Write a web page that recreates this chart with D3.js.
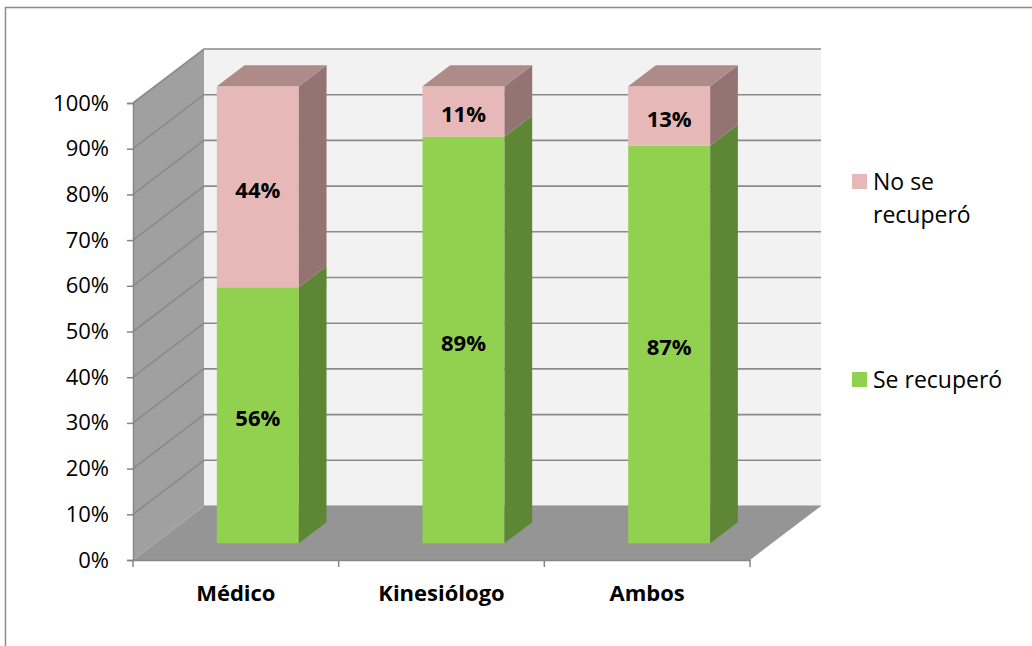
<!DOCTYPE html>
<html>
<head>
<meta charset="utf-8">
<script src="https://cdn.jsdelivr.net/npm/d3@7"></script>
<style>
  html, body { margin: 0; padding: 0; background: #fff; }
  svg { display: block; }
  text { font-family: "Open Sans", "Noto Sans", sans-serif; }
</style>
</head>
<body>
<svg id="chart" width="1032" height="646"></svg>
<script>
// Outcome by type of treatment (share of patients)
const categories = ["Médico", "Kinesiólogo", "Ambos"];
const recovered = [56, 89, 87];
const notRecovered = [44, 11, 13];
const seriesNames = ["Se recuperó", "No se recuperó"];
const yTicks = [0, 10, 20, 30, 40, 50, 60, 70, 80, 90, 100];

const svg = d3.select("#chart");

// frame around the chart area
svg.append("rect")
  .attr("x", 5.5).attr("y", 7.5)
  .attr("width", 1040).attr("height", 660)
  .attr("fill", "#fff").attr("stroke", "#8c8c8c").attr("stroke-width", 1.5);

// front plane scales and oblique depth offset
const x = d3.scaleBand().domain(categories).range([133, 750]).padding(0);
const y = d3.scaleLinear().domain([0, 100]).range([560, 103]);
const DX = 71, DY = 54;               // full depth of the box
const proj = (px, v, z) => [px + z * DX, y(v) - z * DY];
const poly = pts => "M" + pts.map(p => p.join(",")).join("L") + "Z";

const x0 = x.range()[0], x1 = x.range()[1];

// back wall
svg.append("path")
  .attr("d", poly([proj(x0, 0, 1), proj(x1, 0, 1), proj(x1, 100, 1), proj(x0, 100, 1)]))
  .attr("fill", "#f2f2f2");

// left side wall
svg.append("path")
  .attr("d", poly([proj(x0, 0, 0), proj(x0, 0, 1), proj(x0, 100, 1), proj(x0, 100, 0)]))
  .attr("fill", "#a0a0a0");

// floor
svg.append("path")
  .attr("d", poly([proj(x0, 0, 0), proj(x1, 0, 0), proj(x1, 0, 1), proj(x0, 0, 1)]))
  .attr("fill", "#959595");

// gridlines: diagonal on the side wall, horizontal on the back wall
const grid = svg.append("g").attr("stroke", "#8a8a8a").attr("stroke-width", 1.6).attr("fill", "none");
yTicks.forEach(t => {
  if (t > 0) {
    grid.append("path").attr("d", "M" + proj(x0, t, 0) + "L" + proj(x0, t, 1) + "L" + proj(x1, t, 1));
  } else {
    grid.append("path").attr("d", "M" + proj(x0, t, 1) + "L" + proj(x1, t, 1))
      .attr("stroke", "#8f8f8f").attr("stroke-width", 1);
  }
});

// bars
const colors = {
  rec: { front: "#92d050", side: "#5e8735", top: "#7aa845" },
  no:  { front: "#e6b8b7", side: "#937472", top: "#ae8b89" }
};
const barW = 82, zA = 0.31, zB = 0.70;

const rows = categories.map((c, i) => ({
  cat: c,
  segs: [
    { key: "rec", v0: 0, v1: recovered[i], label: recovered[i] },
    { key: "no", v0: recovered[i], v1: recovered[i] + notRecovered[i], label: notRecovered[i] }
  ]
}));

const bars = svg.append("g");
rows.forEach(r => {
  const cx = x(r.cat) + x.bandwidth() / 2;
  const L = cx - barW / 2, R = cx + barW / 2;
  const g = bars.append("g");
  r.segs.forEach(s => {
    const col = colors[s.key];
    // front face
    g.append("path")
      .attr("d", poly([proj(L, s.v0, zA), proj(R, s.v0, zA), proj(R, s.v1, zA), proj(L, s.v1, zA)]))
      .attr("fill", col.front);
    // right side face
    g.append("path")
      .attr("d", poly([proj(R, s.v0, zA), proj(R, s.v0, zB), proj(R, s.v1, zB), proj(R, s.v1, zA)]))
      .attr("fill", col.side);
  });
  const top = r.segs[r.segs.length - 1];
  g.append("path")
    .attr("d", poly([proj(L, top.v1, zA), proj(R, top.v1, zA), proj(R, top.v1, zB), proj(L, top.v1, zB)]))
    .attr("fill", colors[top.key].top);
  // value labels centred on each front face
  r.segs.forEach(s => {
    const p = proj(cx, (s.v0 + s.v1) / 2, zA);
    g.append("text")
      .attr("x", p[0]).attr("y", p[1])
      .attr("dy", "0.5em")
      .attr("text-anchor", "middle")
      .attr("font-size", 22).attr("font-weight", 700)
      .attr("fill", "#000")
      .text(s.label + "%");
  });
});

// value axis
const yAxis = svg.append("g")
  .attr("transform", `translate(${x0},0)`)
  .call(d3.axisLeft(y).tickValues(yTicks).tickSize(6).tickPadding(18).tickFormat(d => d + "%"));
yAxis.select(".domain").attr("stroke", "#868686").attr("stroke-width", 1.5);
yAxis.selectAll(".tick line").attr("stroke", "#868686").attr("stroke-width", 1.5);
yAxis.selectAll(".tick text").attr("font-size", 22).attr("fill", "#000")
  .style("font-family", "'Open Sans', sans-serif");

// category axis
const xAxis = svg.append("g")
  .attr("transform", `translate(0,${y(0)})`)
  .call(d3.axisBottom(x).tickSize(0).tickPadding(25));
xAxis.select(".domain").attr("stroke", "#868686").attr("stroke-width", 1.5);
xAxis.selectAll(".tick text").attr("font-size", 22).attr("font-weight", 700).attr("fill", "#000")
  .style("font-family", "'Open Sans', sans-serif");
const bounds = [x0].concat(categories.map(c => x(c) + x.bandwidth()));
xAxis.selectAll(".bound").data(bounds).join("line")
  .attr("class", "bound")
  .attr("x1", d => d).attr("x2", d => d)
  .attr("y1", 0).attr("y2", 7)
  .attr("stroke", "#868686").attr("stroke-width", 1.5);

// legend
const legend = svg.append("g").attr("font-size", 23).attr("fill", "#000");
const legendItems = [
  { name: seriesNames[1], color: colors.no.front, y: 181.5, lines: ["No se", "recuperó"] },
  { name: seriesNames[0], color: colors.rec.front, y: 379.5, lines: ["Se recuperó"] }
];
legendItems.forEach(it => {
  legend.append("rect")
    .attr("x", 852).attr("y", it.y - 7.5).attr("width", 15).attr("height", 15)
    .attr("fill", it.color);
  const t = legend.append("text").attr("x", 873).attr("y", it.y);
  it.lines.forEach((ln, k) => {
    t.append("tspan").attr("x", 873).attr("dy", k === 0 ? "0.36em" : "1.45em").text(ln);
  });
});
</script>
</body>
</html>
